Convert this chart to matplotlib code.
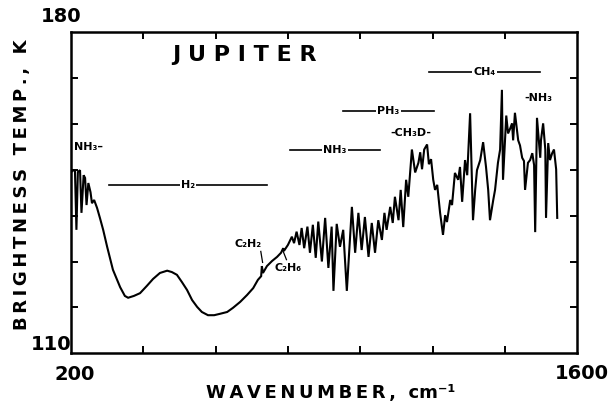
import matplotlib
matplotlib.use("Agg")
import matplotlib.pyplot as plt

# ── spectrum (wavenumber cm^-1, brightness temp K) ──
wavenumber = [
    201, 206, 211, 215, 219, 225, 229, 235, 239, 243, 248, 254, 258, 264,
    272, 280, 289, 300, 316, 336, 349, 358, 374, 391, 410, 427, 446, 466,
    479, 493, 507, 521, 535, 549, 562, 579, 596, 612, 632, 648, 668, 687,
    704, 717, 726, 728, 731, 742, 756, 770, 781, 787, 789, 800,
    811, 817, 824, 832, 838, 845, 854, 861, 869, 877, 884, 894, 903, 912,
    921, 926, 935, 944, 953, 963, 977, 986, 995, 1004, 1013, 1023, 1032,
    1041, 1050, 1060, 1067, 1073, 1083, 1090, 1096, 1106, 1112, 1119, 1127,
    1133, 1143, 1152, 1161,
    1166, 1171, 1177, 1185, 1190, 1196, 1202, 1207, 1213, 1221, 1229, 1235,
    1240, 1249, 1254, 1262, 1271, 1276, 1282, 1290, 1296, 1304, 1312, 1318,
    1323, 1332, 1340, 1348, 1354, 1359, 1368, 1373, 1381, 1387, 1392, 1395,
    1404, 1409, 1415, 1420, 1423, 1428, 1437, 1442, 1448, 1453, 1456, 1462,
    1464, 1470, 1476, 1481, 1484, 1489, 1498, 1500, 1506, 1512, 1514, 1520,
    1525, 1531, 1536, 1542, 1545,
]
brightness_temp = [
    149.5, 149.9, 149.7, 136.9, 149.5, 149.9, 140.6, 148.8, 148.2, 142.3,
    147.1, 145.1, 142.7, 143.4, 141.7, 139.5, 136.9, 133.2, 128.2, 124.4,
    122.5, 122.1, 122.5, 123.1, 124.7, 126.2, 127.5, 128.0, 127.7, 127.1,
    125.5, 123.8, 121.6, 120.1, 119.0, 118.3, 118.3, 118.6, 119.0, 119.9,
    121.2, 122.7, 124.2, 126.0, 126.8, 129.0, 127.5, 129.0, 130.1, 131.0,
    131.9, 132.9, 132.3, 133.6,
    135.4, 134.0, 136.5, 133.6, 137.3, 132.9, 137.6, 131.9, 138.0, 130.8,
    138.7, 130.0, 139.5, 128.6, 137.6, 123.6, 138.2, 133.2, 136.9, 123.6,
    141.9, 131.9, 140.6, 132.5, 139.7, 131.0, 138.4, 131.9, 139.0, 134.7,
    140.6, 136.9, 141.9, 138.4, 144.1, 139.0, 145.6, 137.5, 147.8, 144.1,
    154.4, 149.4, 151.5,
    153.8, 150.1, 154.4, 155.5, 151.2, 152.3, 147.8, 145.6, 146.7, 140.6,
    135.8, 140.1, 138.6, 143.4, 142.3, 149.3, 147.8, 150.6, 143.0, 152.1,
    148.8, 162.3, 139.0, 145.6, 149.9, 152.1, 156.0, 150.6, 145.6, 139.0,
    143.4, 145.6, 151.5, 154.4, 167.4, 147.8, 161.8, 157.9, 159.0, 160.1,
    156.4, 162.4, 156.4, 155.3, 152.6, 151.9, 145.6, 149.9, 151.5, 152.1,
    153.6, 151.0, 136.4, 161.3, 152.6, 156.4, 160.1, 154.4, 139.5, 155.8,
    152.1, 153.6, 154.4, 150.1, 139.5,
]

# band labels: (label, start, end, temp)
band_names = ["H₂", "NH₃", "PH₃", "CH₄"]
band_start = [305, 806, 953, 1190]
band_end = [742, 1055, 1204, 1498]
band_temp = [146.7, 154.3, 162.8, 171.3]

x_ticks = [400, 600, 800, 1000, 1200, 1400]
y_ticks = [120, 130, 140, 150, 160, 170]

plt.rcParams["font.family"] = ["DejaVu Sans"]


def spaced(s, sep="\u2009"):
    return sep.join(s)


fig = plt.figure(figsize=(6.12, 4.11), dpi=100)
ax = fig.add_axes([0.116, 0.1404, 0.827, 0.7817])

ax.plot(wavenumber, brightness_temp, color="black", linewidth=1.5,
        solid_joinstyle="miter")
ax.set_xlim(200, 1600)
ax.set_ylim(110, 180)

ax.set_xticks(x_ticks)
ax.set_yticks(y_ticks)
ax.tick_params(direction="in", length=5, width=1.4, top=True, right=True,
               labelbottom=False, labelleft=False)
for sp in ax.spines.values():
    sp.set_linewidth(1.8)

# band bars with label in the middle
for name, x0, x1, t in zip(band_names, band_start, band_end, band_temp):
    ax.plot([x0, x1], [t, t], color="black", linewidth=1.2)
    ax.text((x0 + x1) / 2, t, name, ha="center", va="center", fontsize=8,
            fontweight="bold",
            bbox=dict(facecolor="white", edgecolor="none", pad=1.0))

ax.text(208, 154.9, "NH₃–", ha="left", va="center", fontsize=8, fontweight="bold")
ax.text(1141, 158.0, "-CH₃D-", ha="center", va="center", fontsize=8, fontweight="bold")
ax.text(1492, 165.6, "-NH₃", ha="center", va="center", fontsize=8, fontweight="bold")

# hydrocarbon features
ax.text(690, 133.8, "C₂H₂", ha="center", va="center", fontsize=8, fontweight="bold")
ax.plot([725, 730], [132.2, 129.8], color="black", linewidth=0.9)
ax.text(800, 128.6, "C₂H₆", ha="center", va="center", fontsize=8, fontweight="bold")
ax.plot([786, 796], [132.4, 130.4], color="black", linewidth=0.9)

ax.text(679, 175.0, spaced("JUPITER", " "), ha="center", va="center",
        fontsize=16, fontweight="bold")

# end-point tick labels, as in the original
lab = dict(fontsize=14, fontweight="bold", transform=ax.transAxes,
           ha="center", va="center", clip_on=False)
ax.text(-0.02, 1.047, "180", **lab)
ax.text(-0.04, 0.026, "110", **lab)
ax.text(0.008, -0.067, "200", **lab)
ax.text(1.01, -0.064, "1600", **lab)

ax.text(0.514, -0.123, spaced("WAVENUMBER,") + "  " + "cm⁻¹", transform=ax.transAxes,
        ha="center", va="center", fontsize=13, fontweight="bold")
ax.text(-0.097, 0.524, spaced("BRIGHTNESS TEMP., K"), transform=ax.transAxes,
        ha="center", va="center", rotation=90, fontsize=13, fontweight="bold")

fig.savefig("out.png", dpi=100)
